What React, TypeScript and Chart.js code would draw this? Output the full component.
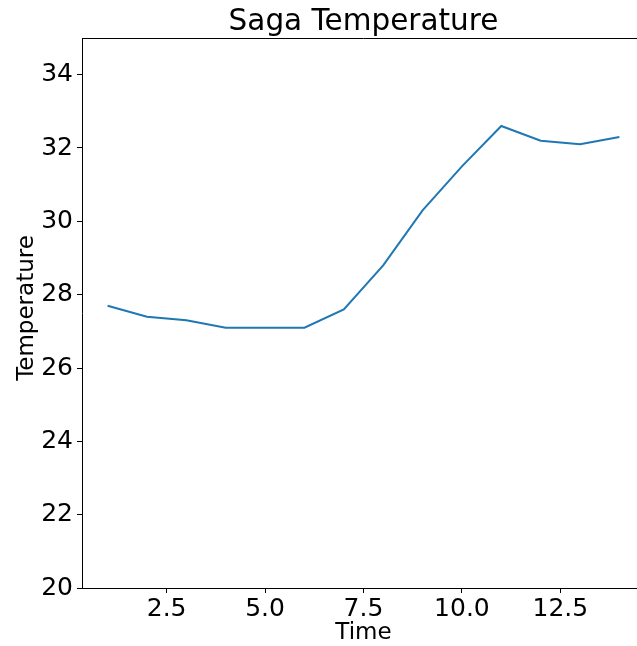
import React, { useEffect, useRef } from "react";
import { Chart, registerables } from "chart.js";

Chart.register(...registerables);

const timeValues = [1, 2, 3, 4, 5, 6, 7, 8, 9, 10, 11, 12, 13, 14];
const temperatureValues = [27.7, 27.4, 27.3, 27.1, 27.1, 27.1, 27.6, 28.8, 30.3, 31.5, 32.6, 32.2, 32.1, 32.3];
const xTickValues = [2.5, 5.0, 7.5, 10.0, 12.5];
const yTickValues = [20, 22, 24, 26, 28, 30, 32, 34];

const titleText = "Saga Temperature";
const xLabel = "Time";
const yLabel = "Temperature";

const FONT = "'DejaVu Sans', sans-serif";

export default function App() {
  const canvasRef = useRef<HTMLCanvasElement | null>(null);

  useEffect(() => {
    document.body.style.margin = "0";
    document.body.style.overflow = "hidden";
    const canvas = canvasRef.current;
    if (!canvas) return;

    const textPlugin = {
      id: "mplText",
      afterDraw(chart: any) {
        const ctx = chart.ctx;
        const area = chart.chartArea;
        ctx.save();
        // top spine (right spine lies outside the visible picture)
        ctx.strokeStyle = "#000";
        ctx.lineWidth = 1;
        ctx.beginPath();
        ctx.moveTo(area.left, Math.round(area.top) + 0.5);
        ctx.lineTo(area.right, Math.round(area.top) + 0.5);
        ctx.stroke();

        ctx.fillStyle = "#000";
        ctx.textAlign = "center";
        ctx.textBaseline = "alphabetic";
        const cx = (area.left + area.right) / 2;
        ctx.font = `29.5px ${FONT}`;
        ctx.fillText(titleText, cx, 30);
        ctx.font = `23px ${FONT}`;
        ctx.fillText(xLabel, cx, 639);
        ctx.translate(33, (area.top + area.bottom) / 2 - 5);
        ctx.rotate(-Math.PI / 2);
        ctx.fillText(yLabel, 0, 0);
        ctx.restore();
      },
    };

    const chart = new Chart(canvas, {
      type: "line",
      data: {
        datasets: [
          {
            data: timeValues.map((t, i) => ({ x: t, y: temperatureValues[i] })),
            borderColor: "#1f77b4",
            borderWidth: 2,
            pointRadius: 0,
            fill: false,
            tension: 0,
          },
        ],
      },
      options: {
        responsive: false,
        animation: false,
        layout: { padding: { top: 38, right: 55, left: 0, bottom: 0 } },
        plugins: {
          legend: { display: false },
          title: { display: false },
          tooltip: { enabled: false },
        },
        scales: {
          x: {
            type: "linear",
            min: 0.35,
            max: 14.65,
            afterBuildTicks: (scale: any) => {
              scale.ticks = xTickValues.map((v) => ({ value: v }));
            },
            afterFit: (scale: any) => {
              scale.height = 58;
            },
            grid: { drawOnChartArea: false, drawTicks: true, tickLength: 5, color: "#000" },
            border: { display: true, color: "#000", width: 1 },
            ticks: {
              color: "#000",
              font: { family: FONT, size: 25 },
              padding: 1,
              maxRotation: 0,
              autoSkip: false,
              callback: (v: any) => Number(v).toFixed(1),
            },
          },
          y: {
            type: "linear",
            min: 20,
            max: 35,
            afterBuildTicks: (scale: any) => {
              scale.ticks = yTickValues.map((v) => ({ value: v }));
            },
            afterFit: (scale: any) => {
              scale.width = 82;
            },
            grid: { drawOnChartArea: false, drawTicks: true, tickLength: 5, color: "#000" },
            border: { display: true, color: "#000", width: 1 },
            ticks: {
              color: "#000",
              font: { family: FONT, size: 25 },
              padding: 4,
              autoSkip: false,
              callback: (v: any) => String(v),
            },
          },
        },
      },
      plugins: [textPlugin],
    });

    return () => {
      chart.destroy();
    };
  }, []);

  return (
    <div style={{ position: "fixed", left: 0, top: 0, width: 637, height: 646, overflow: "hidden", background: "#fff" }}>
      <canvas ref={canvasRef} width={700} height={646} style={{ display: "block", width: 700, height: 646 }} />
    </div>
  );
}
